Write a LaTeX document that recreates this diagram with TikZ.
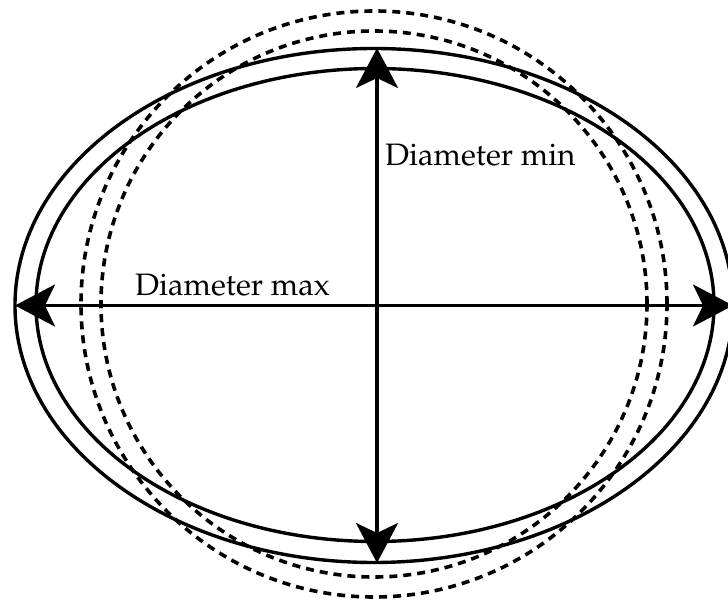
\documentclass[tikz,border=0pt]{standalone}
\usepackage[T1]{fontenc}
\usepackage{mathpazo}
\usetikzlibrary{shapes.geometric,arrows.meta}
\begin{document}
\begin{tikzpicture}[x=1pt,y=-1pt,
  ringbase/.style={ellipse,draw,line width=3.4pt,inner sep=0pt,outer sep=0pt},
  dashring/.style={ringbase,line width=3.6pt,dash pattern=on 8pt off 6pt},
  dimline/.style={line width=3.2pt,{Stealth[length=40pt,width=42pt,inset=10pt]}-{Stealth[length=40pt,width=42pt,inset=10pt]}},
  lbl/.style={anchor=base west,inner sep=0pt,font=\fontsize{31}{36}\selectfont}]
  \clip (0,0) rectangle (728,601);
  % dashed circles
  \node[dashring,minimum width=586pt,minimum height=586pt] (c1) at (374,304) {};
  \node[dashring,minimum width=546pt,minimum height=546pt] (c2) at (374,304) {};
  % solid ellipses
  \node[ringbase,minimum width=718pt,minimum height=514pt] (outer) at (374,305.5) {};
  \node[ringbase,minimum width=678pt,minimum height=473pt] (inner) at (375,305) {};
  % dimension arrows
  \draw[dimline] (outer.west) -- (outer.east);
  \coordinate (vt) at (377,48);
  \coordinate (vb) at (377,563);
  \draw[dimline] (vt) -- (vb);
  % labels
  \node[lbl] (lmax) at (135,296) {Diameter max};
  \node[lbl] (lmin) at (385,166) {Diameter min};
\end{tikzpicture}
\end{document}
